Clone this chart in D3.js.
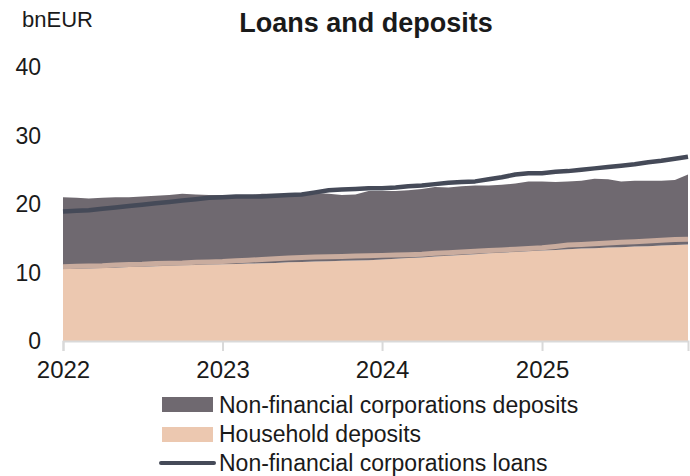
<!DOCTYPE html>
<html>
<head>
<meta charset="utf-8">
<script src="https://cdn.jsdelivr.net/npm/d3@7"></script>
<style>
  body { margin: 0; background: #fff; }
  svg text { font-family: "Liberation Sans", Arial, sans-serif; fill: #1a1a1a; }
</style>
</head>
<body>
<svg id="chart" width="690" height="476"></svg>
<script>
// monthly observations, Jan 2022 .. Dec 2025
var months = d3.range(48).map(function(i) { return new Date(2022, i, 1); });

// bnEUR
var householdDeposits = [10.5, 10.55, 10.6, 10.65, 10.7, 10.8, 10.85, 10.9, 11.0, 11.05, 11.1, 11.15,
  11.2, 11.25, 11.3, 11.35, 11.4, 11.5, 11.55, 11.6, 11.65, 11.7, 11.75, 11.8,
  11.9, 12.0, 12.1, 12.2, 12.35, 12.45, 12.55, 12.65, 12.8, 12.9, 13.0, 13.1,
  13.2, 13.3, 13.4, 13.5, 13.55, 13.65, 13.7, 13.8, 13.85, 13.95, 14.0, 14.1];

var nfcDeposits = [10.5, 10.35, 10.2, 10.25, 10.3, 10.2, 10.25, 10.3, 10.3, 10.45, 10.3, 10.15,
  10.1, 10.05, 9.9, 10.15, 10.1, 10.0, 10.05, 10.0, 9.85, 9.6, 9.65, 10.1,
  10.0, 9.9, 9.9, 10.0, 10.15, 9.95, 10.05, 10.05, 9.9, 9.9, 10.0, 10.2,
  10.1, 9.9, 9.9, 9.9, 10.15, 9.95, 9.6, 9.6, 9.55, 9.45, 9.5, 10.2];

// thin line drawn over the household band (not in the legend)
var householdLoans = [10.85, 10.9, 10.95, 11.0, 11.1, 11.15, 11.2, 11.3, 11.35, 11.4, 11.5, 11.55,
  11.6, 11.7, 11.8, 11.9, 12.0, 12.1, 12.2, 12.25, 12.3, 12.35, 12.4, 12.45,
  12.5, 12.55, 12.6, 12.65, 12.8, 12.9, 13.0, 13.1, 13.2, 13.3, 13.4, 13.5,
  13.6, 13.8, 14.0, 14.1, 14.2, 14.3, 14.4, 14.5, 14.6, 14.7, 14.8, 14.85];

var nfcLoans = [18.9, 19.0, 19.1, 19.3, 19.5, 19.7, 19.9, 20.1, 20.3, 20.5, 20.7, 20.9,
  21.0, 21.1, 21.1, 21.1, 21.2, 21.3, 21.4, 21.7, 22.0, 22.1, 22.2, 22.3,
  22.3, 22.4, 22.6, 22.7, 22.9, 23.1, 23.2, 23.3, 23.6, 23.9, 24.3, 24.5,
  24.5, 24.7, 24.8, 25.0, 25.2, 25.4, 25.6, 25.8, 26.1, 26.3, 26.6, 26.9];

var yTicks = [0, 10, 20, 30, 40];
var legendLabels = ['Non-financial corporations deposits', 'Household deposits', 'Non-financial corporations loans'];

var colNfcDep = '#6f6970', colHhDep = '#ecc8b0', colHhLoan = '#c9ac9e', colNfcLoan = '#454a58';

var svg = d3.select('#chart');
var x = d3.scaleTime().domain([months[0], months[months.length - 1]]).range([63, 688]);
var y = d3.scaleLinear().domain([0, 40]).range([341, 67]);

var rows = months.map(function(d, i) {
  return { date: d, hh: householdDeposits[i], nfc: nfcDeposits[i] };
});
var stack = d3.stack().keys(['hh', 'nfc'])(rows);
var area = d3.area()
  .x(function(d) { return x(d.data.date); })
  .y0(function(d) { return y(d[0]); })
  .y1(function(d) { return y(d[1]); });

svg.append('g').selectAll('path').data(stack).join('path')
  .attr('d', area)
  .attr('fill', function(d, i) { return i === 0 ? colHhDep : colNfcDep; });

var line = function(vals) {
  return d3.line()
    .x(function(d, i) { return x(months[i]); })
    .y(function(d) { return y(d); })(vals);
};
svg.append('path').attr('d', line(householdLoans)).attr('fill', 'none')
  .attr('stroke', colHhLoan).attr('stroke-width', 5);
svg.append('path').attr('d', line(nfcLoans)).attr('fill', 'none')
  .attr('stroke', colNfcLoan).attr('stroke-width', 4.5).attr('stroke-linejoin', 'round');

// x axis
var xAxis = svg.append('g').attr('transform', 'translate(0,341)')
  .call(d3.axisBottom(x).ticks(d3.timeYear.every(1)).tickFormat(d3.timeFormat('%Y')).tickSize(10).tickPadding(10));
xAxis.select('.domain').attr('stroke', '#d9d9d9').attr('stroke-width', 2);
xAxis.selectAll('.tick line').attr('stroke', '#d9d9d9').attr('stroke-width', 2);
xAxis.selectAll('.tick text').style('font-size', '24px').attr('fill', '#1a1a1a');

// y labels
svg.append('g').selectAll('text').data(yTicks).join('text')
  .attr('x', 41).attr('y', function(d) { return y(d); }).attr('dy', '0.36em')
  .attr('text-anchor', 'end').style('font-size', '23px')
  .text(function(d) { return d; });

svg.append('text').attr('x', 22).attr('y', 27).style('font-size', '22px').text('bnEUR');
svg.append('text').attr('x', 366).attr('y', 32).attr('text-anchor', 'middle')
  .style('font-size', '27px').style('font-weight', 'bold').text('Loans and deposits');

// legend
var lg = svg.append('g');
lg.append('rect').attr('x', 162).attr('y', 397).attr('width', 51).attr('height', 15).attr('fill', colNfcDep);
lg.append('rect').attr('x', 162).attr('y', 427).attr('width', 51).attr('height', 15).attr('fill', colHhDep);
lg.append('line').attr('x1', 161).attr('x2', 214).attr('y1', 463).attr('y2', 463)
  .attr('stroke', colNfcLoan).attr('stroke-width', 4).attr('stroke-linecap', 'round');
lg.selectAll('text').data(legendLabels).join('text')
  .attr('x', 219).attr('y', function(d, i) { return 405 + i * 29; }).attr('dy', '0.36em')
  .style('font-size', '23px').text(function(d) { return d; });
</script>
</body>
</html>
